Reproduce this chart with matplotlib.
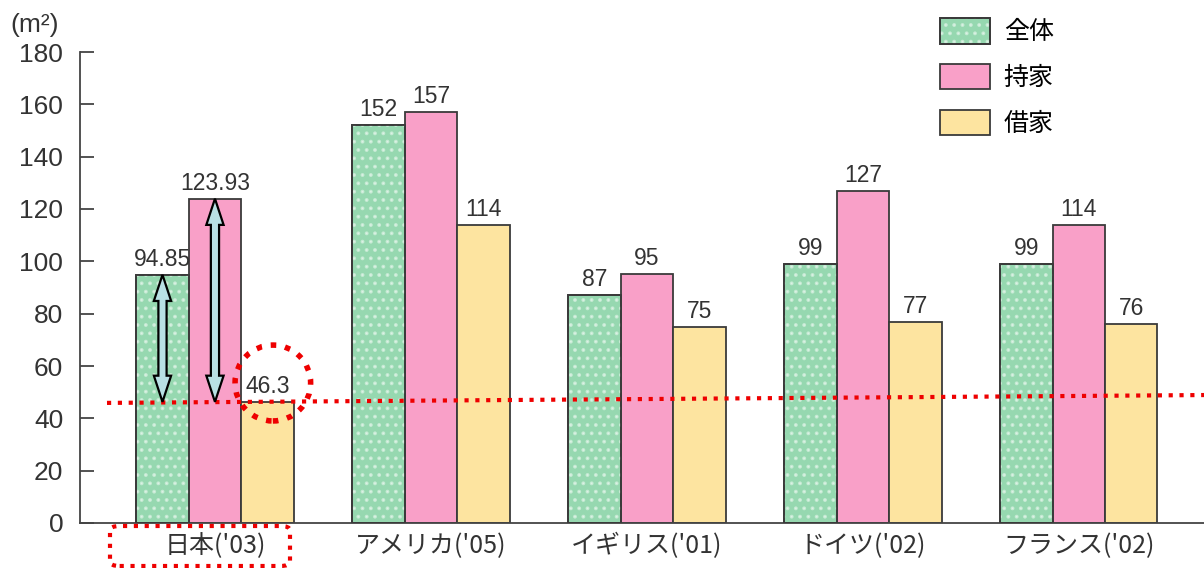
import matplotlib
matplotlib.use("Agg")
import matplotlib.pyplot as plt
from matplotlib.patches import Ellipse, FancyBboxPatch, Polygon, Patch
import numpy as np

plt.rcParams['font.family'] = ['Liberation Sans', 'Noto Sans CJK JP', 'DejaVu Sans']
plt.rcParams['hatch.linewidth'] = 1.6

# data
countries = ["日本('03)", "アメリカ('05)", "イギリス('01)", "ドイツ('02)", "フランス('02)"]
series_names = ["全体", "持家", "借家"]
zentai = [94.85, 152, 87, 99, 99]
mochiie = [123.93, 157, 95, 127, 114]
shakuya = [46.3, 114, 75, 77, 76]
value_labels = [
    ["94.85", "152", "87", "99", "99"],
    ["123.93", "157", "95", "127", "114"],
    ["46.3", "114", "75", "77", "76"],
]
colors = ["#96d8b0", "#f9a0c8", "#fde4a0"]
edge = "#3a3a3a"

fig = plt.figure(figsize=(12.04, 5.68), dpi=100)
ax = fig.add_axes([80 / 1204, 45 / 568, 1 - 80 / 1204, 471 / 568])

x = np.arange(len(countries))
w = 0.243
series = [zentai, mochiie, shakuya]
handles = []
for k, vals in enumerate(series):
    pos = x + (k - 1) * w
    ax.bar(pos, vals, width=w, color=colors[k], edgecolor=edge, linewidth=1.3, zorder=2)
    if k == 0:
        # white dotted texture on the green bars
        ax.bar(pos, vals, width=w, color="none", edgecolor="white", hatch="..",
               linewidth=0, zorder=2.5, alpha=0.45)
        ax.bar(pos, vals, width=w, color="none", edgecolor=edge, linewidth=1.3, zorder=2.6)
        h = (Patch(facecolor=colors[k], edgecolor=edge, linewidth=1.3),
             Patch(facecolor="none", edgecolor="white", hatch="..", linewidth=0, alpha=0.45),
             Patch(facecolor="none", edgecolor=edge, linewidth=1.3))
    else:
        h = Patch(facecolor=colors[k], edgecolor=edge, linewidth=1.3)
    handles.append(h)
    for p, v, lab in zip(pos, vals, value_labels[k]):
        ax.text(p, v + 1.5, lab, ha="center", va="bottom", fontsize=16.5, color="#333333")

ax.set_xlim(-0.625, 4.58)
ax.set_ylim(0, 180)
ax.set_yticks(np.arange(0, 181, 20))
ax.tick_params(axis="y", direction="in", length=10, width=1.3, colors="#444444",
               labelsize=19, pad=12, labelcolor="#333333")
ax.set_xticks(x)
ax.set_xticklabels(countries, fontsize=18, color="#333333",
                   family=['Noto Sans CJK JP', 'DejaVu Sans'])
ax.tick_params(axis="x", length=0, pad=7)
for s in ["top", "right"]:
    ax.spines[s].set_visible(False)
for s in ["left", "bottom"]:
    ax.spines[s].set_color("#444444")
    ax.spines[s].set_linewidth(1.3)

fig.text(10 / 1204, 1 - 25 / 568, "(m²)", fontsize=19, color="#333333",
         ha="left", va="center")

ax.legend(handles, series_names, loc="upper left", bbox_to_anchor=(940 / 1204, 1 - 18 / 568),
          bbox_transform=fig.transFigure, frameon=False, borderpad=0, borderaxespad=0,
          handlelength=2.0, handleheight=1.2, labelspacing=0.74, handletextpad=0.55,
          prop={'family': ['Noto Sans CJK JP', 'DejaVu Sans'], 'size': 18})

# annotations: red dotted reference line at the rental-home level
ax.plot([-0.5, 4.58], [45.9, 48.9], color="#ee0000", linestyle=(0, (1, 1.6)),
        linewidth=3, zorder=5, clip_on=False)
ax.add_patch(Ellipse((x[0] + w + 0.025, 53.5), 0.35, 29, fill=False, edgecolor="#ee0000",
                     linestyle=(0, (1, 1.6)), linewidth=4, zorder=6))
lab_box = FancyBboxPatch((110 / 1204, 2 / 568), 180 / 1204, 40 / 568,
                         boxstyle="round,pad=0,rounding_size=0.008", transform=fig.transFigure,
                         fill=False, edgecolor="#ee0000", linestyle=(0, (1, 1.6)), linewidth=3)
fig.patches.append(lab_box)

# double arrows from the bar tops down to the rental level
sw, hw, hl = 0.019, 0.040, 10.0
for k in [0, 1]:
    xp = x[0] + (k - 1) * w
    top = series[k][0]
    low = shakuya[0]
    pts = [(xp, top), (xp + hw, top - hl), (xp + sw, top - hl), (xp + sw, low + hl),
           (xp + hw, low + hl), (xp, low), (xp - hw, low + hl), (xp - sw, low + hl),
           (xp - sw, top - hl), (xp - hw, top - hl)]
    ax.add_patch(Polygon(pts, closed=True, facecolor="#b8e0e4", edgecolor="black",
                         linewidth=1.6, zorder=7))

fig.savefig("out.png", dpi=100)
